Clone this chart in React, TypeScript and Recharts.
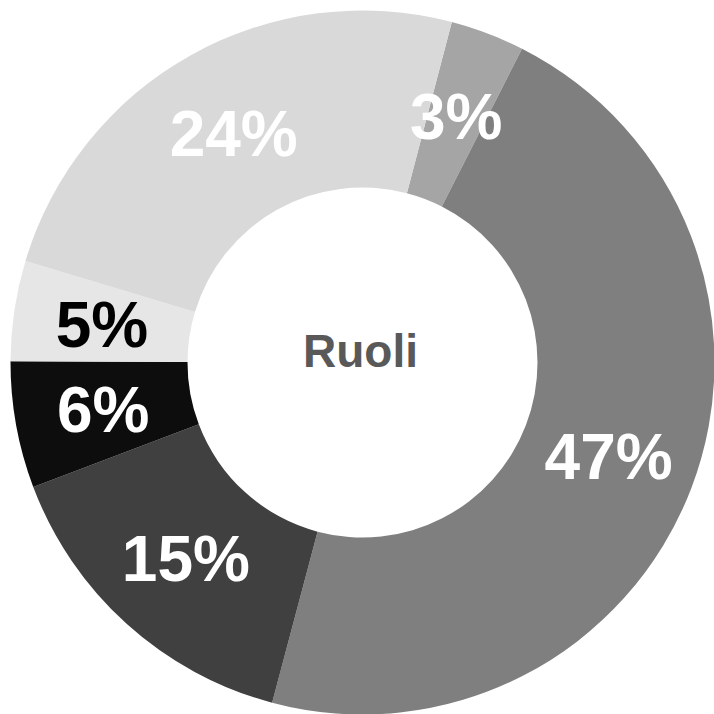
import React from "react";
import { PieChart, Pie, Cell } from "recharts";

const categories = ["A", "B", "C", "D", "E", "F"];
const values = [3.4, 46.6, 15.1, 5.8, 4.6, 24.4];
const labels = ["3%", "47%", "15%", "6%", "5%", "24%"];
const colors = ["#a5a5a5", "#7f7f7f", "#404040", "#0d0d0d", "#e6e6e6", "#d9d9d9"];
const labelColors = ["#ffffff", "#ffffff", "#ffffff", "#ffffff", "#000000", "#ffffff"];
const centerTitle = "Ruoli";

const data = categories.map((c, i) => ({ name: c, value: values[i], label: labels[i] }));

const RAD = Math.PI / 180;
const FONT = "'Liberation Sans', Arial, Helvetica, sans-serif";

const renderLabel = (props: any) => {
  const { cx, cy, midAngle, innerRadius, outerRadius, index } = props;
  const r = (innerRadius + outerRadius) / 2;
  const x = cx + r * Math.cos(-midAngle * RAD);
  const y = cy + r * Math.sin(-midAngle * RAD);
  const fs = 64;
  return (
    <text
      x={x}
      y={y + fs * 0.358}
      textAnchor="middle"
      fill={labelColors[index]}
      fontSize={fs}
      fontWeight="bold"
      fontFamily={FONT}
    >
      {labels[index]}
    </text>
  );
};

export default function App() {
  return (
    <div style={{ position: "absolute", left: 0, top: 0, width: 714, height: 714, background: "#fff" }}>
      <PieChart width={714} height={714} margin={{ top: 0, right: 0, bottom: 0, left: 0 }}>
        <Pie
          data={data}
          dataKey="value"
          nameKey="name"
          cx={362.5}
          cy={362.5}
          innerRadius={175}
          outerRadius={352}
          startAngle={75.3}
          endAngle={-284.7}
          stroke="none"
          label={renderLabel}
          labelLine={false}
          isAnimationActive={false}
        >
          {data.map((d, i) => (
            <Cell key={d.name} fill={colors[i]} />
          ))}
        </Pie>
        <text
          x={360.5}
          y={367}
          textAnchor="middle"
          fill="#595959"
          fontSize={46}
          fontWeight="bold"
          fontFamily={FONT}
        >
          {centerTitle}
        </text>
      </PieChart>
    </div>
  );
}
